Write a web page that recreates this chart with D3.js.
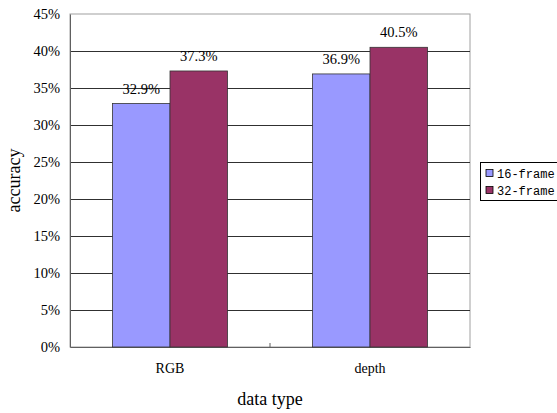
<!DOCTYPE html>
<html>
<head>
<meta charset="utf-8">
<script src="https://d3js.org/d3.v7.min.js"></script>
<style>
  body { margin: 0; background: #fff; }
  svg { display: block; }
</style>
</head>
<body>
<script>
// data
var categories = ["RGB", "depth"];
var seriesNames = ["16-frame", "32-frame"];
var frame16 = [32.9, 36.9];
var frame32 = [37.3, 40.5];
var yTicks = [0, 5, 10, 15, 20, 25, 30, 35, 40, 45];
var colors = ["#9999ff", "#993366"];

var width = 557, height = 413;
var margin = {top: 14, right: 87, bottom: 66, left: 70};

var svg = d3.select("body")
    .append("svg")
    .attr("width", width)
    .attr("height", height);

var x0 = d3.scaleBand()
    .domain(categories)
    .range([margin.left, width - margin.right]);

var x1 = d3.scaleBand()
    .domain(seriesNames)
    .range([0, x0.bandwidth()])
    .paddingOuter(0.74)
    .paddingInner(0);

var y = d3.scaleLinear()
    .domain([0, 45])
    .range([height - margin.bottom, margin.top]);

var serif = "'Liberation Serif', 'Times New Roman', serif";

// plot frame
svg.append("rect")
    .attr("x", margin.left)
    .attr("y", margin.top)
    .attr("width", width - margin.left - margin.right)
    .attr("height", y(0) - margin.top)
    .attr("fill", "none")
    .attr("stroke", "#a0a0a0");

// gridlines
svg.append("g")
    .selectAll("line")
    .data(yTicks.filter(d => d > 0 && d < 45))
    .join("line")
    .attr("x1", margin.left)
    .attr("x2", width - margin.right)
    .attr("y1", d => Math.round(y(d)) + 0.5)
    .attr("y2", d => Math.round(y(d)) + 0.5)
    .attr("stroke", "#303030");

// y axis
var yAxis = svg.append("g")
    .attr("transform", `translate(${margin.left},0)`)
    .call(d3.axisLeft(y).tickValues(yTicks).tickFormat(d => d + "%").tickSize(0).tickPadding(10));
yAxis.select(".domain").attr("stroke", "#606060");
yAxis.selectAll("text")
    .attr("font-family", serif)
    .attr("font-size", 14.5)
    .attr("fill", "#000");

// x axis
var xAxis = svg.append("g")
    .attr("transform", `translate(0,${y(0)})`)
    .call(d3.axisBottom(x0).tickSize(0).tickPadding(16));
xAxis.select(".domain").attr("stroke", "#606060");
xAxis.selectAll("text")
    .attr("font-family", serif)
    .attr("font-size", 14)
    .attr("fill", "#000");
// small divider tick between categories
xAxis.append("line")
    .attr("x1", x0("depth"))
    .attr("x2", x0("depth"))
    .attr("y1", 0)
    .attr("y2", -4)
    .attr("stroke", "#606060");

// bars
var rows = categories.map((c, i) => ({cat: c, vals: [frame16[i], frame32[i]]}));

var groups = svg.append("g")
    .selectAll("g")
    .data(rows)
    .join("g")
    .attr("transform", d => `translate(${x0(d.cat)},0)`);

groups.selectAll("rect")
    .data(d => d.vals.map((v, j) => ({name: seriesNames[j], value: v, j: j})))
    .join("rect")
    .attr("x", d => x1(d.name))
    .attr("y", d => y(d.value))
    .attr("width", x1.bandwidth())
    .attr("height", d => y(0) - y(d.value))
    .attr("fill", d => colors[d.j])
    .attr("stroke", "#333")
    .attr("stroke-width", 0.8);

groups.selectAll("text")
    .data(d => d.vals.map((v, j) => ({name: seriesNames[j], value: v})))
    .join("text")
    .attr("x", d => x1(d.name) + x1.bandwidth() / 2)
    .attr("y", d => y(d.value) - 10)
    .attr("text-anchor", "middle")
    .attr("font-family", serif)
    .attr("font-size", 14.5)
    .text(d => d.value.toFixed(1) + "%");

// axis titles
svg.append("text")
    .attr("transform", `translate(20,${(margin.top + y(0)) / 2}) rotate(-90)`)
    .attr("text-anchor", "middle")
    .attr("font-family", serif)
    .attr("font-size", 18)
    .text("accuracy");

svg.append("text")
    .attr("x", (margin.left + width - margin.right) / 2)
    .attr("y", 405)
    .attr("text-anchor", "middle")
    .attr("font-family", serif)
    .attr("font-size", 18)
    .text("data type");

// legend
var legend = svg.append("g").attr("transform", "translate(480,162)");
legend.append("rect")
    .attr("x", 0.5)
    .attr("y", 0.5)
    .attr("width", 80)
    .attr("height", 38)
    .attr("fill", "#fff")
    .attr("stroke", "#000");

var items = legend.selectAll("g.item")
    .data(seriesNames)
    .join("g")
    .attr("class", "item")
    .attr("transform", (d, i) => `translate(6,${11 + i * 17})`);
items.append("rect")
    .attr("x", 0)
    .attr("y", -3.5)
    .attr("width", 7)
    .attr("height", 7)
    .attr("fill", (d, i) => colors[i])
    .attr("stroke", "#000")
    .attr("stroke-width", 0.8);
items.append("text")
    .attr("x", 11)
    .attr("y", 4.5)
    .attr("font-family", "'Liberation Mono', 'DejaVu Sans Mono', monospace")
    .attr("font-size", 12)
    .text(d => d);
</script>
</body>
</html>
